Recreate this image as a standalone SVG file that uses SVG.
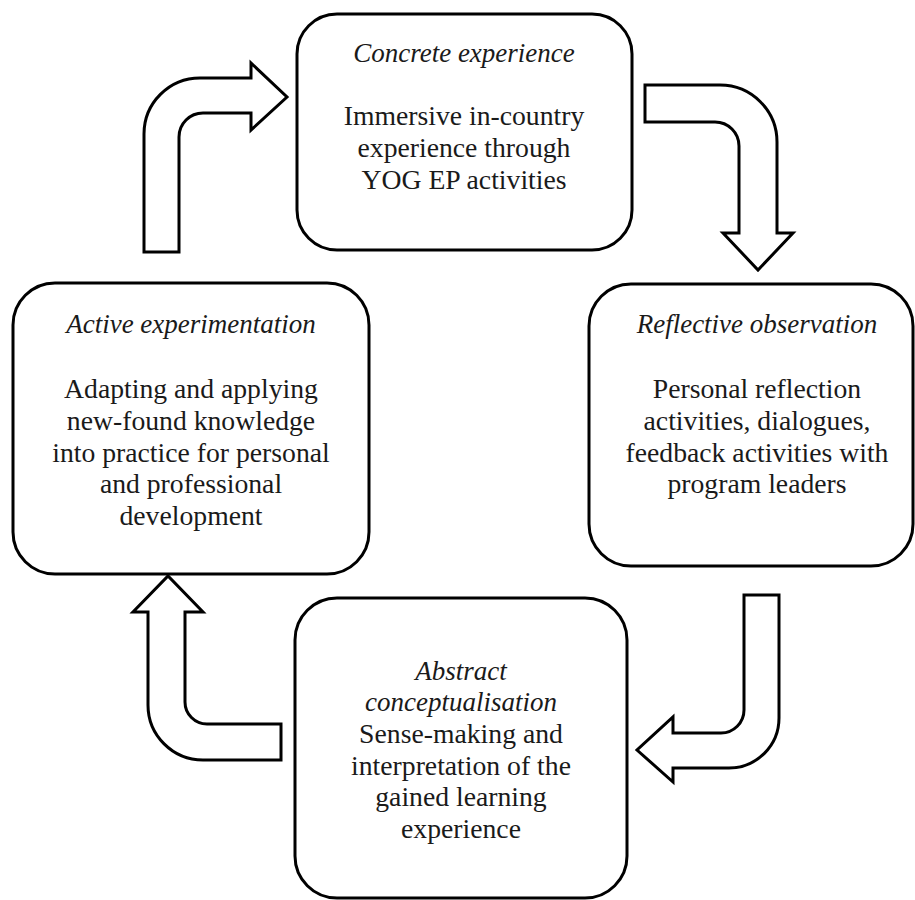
<svg xmlns="http://www.w3.org/2000/svg" width="915" height="900" viewBox="0 0 915 900">
<style>
.box{fill:#fff;stroke:#000;stroke-width:3}
.arr{fill:#fff;stroke:#000;stroke-width:3;stroke-linejoin:miter}
text{font-size:27.7px;fill:#1a1a1a;text-anchor:middle}
.t{font-style:italic;font-size:27px}
</style>
<rect width="915" height="900" fill="#fff"/>
<g font-family="'Liberation Serif', 'DejaVu Serif', serif">
<g id="concrete">
<rect class="box" x="297" y="14" width="335" height="236" rx="40"/>
<text class="t" x="464" y="62">Concrete experience</text>
<text x="464" y="125">Immersive in-country</text>
<text x="464" y="157">experience through</text>
<text x="464" y="189">YOG EP activities</text>
</g>
<g id="active">
<rect class="box" x="13" y="283" width="356" height="291" rx="42"/>
<text class="t" x="191" y="333">Active experimentation</text>
<text x="191" y="398">Adapting and applying</text>
<text x="191" y="430">new-found knowledge</text>
<text x="191" y="462">into practice for personal</text>
<text x="191" y="493">and professional</text>
<text x="191" y="525">development</text>
</g>
<g id="reflective">
<rect class="box" x="589" y="284" width="324" height="282" rx="42"/>
<text class="t" x="757" y="333">Reflective observation</text>
<text x="757" y="398">Personal reflection</text>
<text x="757" y="430">activities, dialogues,</text>
<text x="757" y="462">feedback activities with</text>
<text x="757" y="493">program leaders</text>
</g>
<g id="abstract">
<rect class="box" x="295" y="598" width="332" height="300" rx="42"/>
<text class="t" x="461" y="680">Abstract</text>
<text class="t" x="461" y="711">conceptualisation</text>
<text x="461" y="743">Sense-making and</text>
<text x="461" y="775">interpretation of the</text>
<text x="461" y="806">gained learning</text>
<text x="461" y="838">experience</text>
</g>
</g>
<g id="connectors">
<path class="arr" d="M144,252 L144,134 A56,56 0 0 1 200,78 L251,78 L251,63 L287,97 L251,130 L251,113 L203,113 A24,24 0 0 0 179,137 L179,252 Z"/>
<path class="arr" d="M645,85 L720,85 A57,57 0 0 1 777,142 L777,233 L793,233 L758,270 L723,233 L739,233 L739,146 A24,24 0 0 0 715,122 L645,122 Z"/>
<path class="arr" d="M744,595 L779,595 L779,718 A50,50 0 0 1 729,768 L673,768 L673,782 L637,750 L673,717 L673,733 L721,733 A23,23 0 0 0 744,710 Z"/>
<path class="arr" d="M281,724 L281,760 L203,760 A55,55 0 0 1 148,705 L148,612 L133,612 L168,576 L203,612 L185,612 L185,702 A22,22 0 0 0 207,724 Z"/>
</g>
</svg>
